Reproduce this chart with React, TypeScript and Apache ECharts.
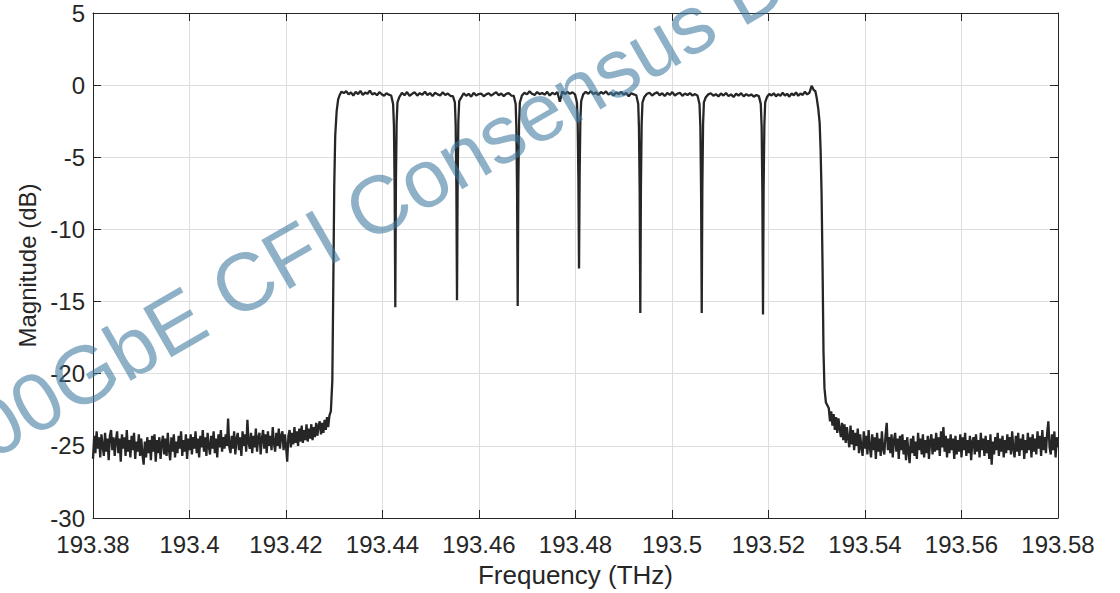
import React, { useEffect, useRef } from "react";
import * as echarts from "echarts";

const FONT = "'Liberation Sans', Arial, Helvetica, sans-serif";
const INK = "#262626";

// Axis ranges
const X_MIN = 193.38;
const X_MAX = 193.58;
const X_STEP = 0.02;
const Y_MIN = -30;
const Y_MAX = 5;
const Y_STEP = 5;

// Measured trace (frequency in THz, magnitude in dB)
const FLOOR_STEP = 0.00025;
const leftFloorStart = 193.38;
const leftFloor = [
  -25.9, -24.3, -25.5, -24.0, -25.2, -24.4, -25.8, -24.2, -25.0, -25.7,
  -24.1, -25.4, -24.5, -26.0, -24.3, -23.9, -25.3, -24.4, -25.7, -24.6,
  -24.0, -25.5, -24.5, -26.1, -24.2, -25.2, -24.4, -25.7, -23.9, -25.4,
  -24.6, -25.8, -24.3, -25.3, -24.1, -25.9, -24.7, -25.4, -24.2, -25.7,
  -24.5, -25.6, -26.3, -24.7, -25.8, -24.4, -25.5, -24.6, -26.0, -24.3,
  -25.4, -24.2, -26.1, -24.6, -25.5, -24.4, -25.9, -24.8, -24.3, -25.6,
  -24.5, -25.7, -24.1, -25.3, -26.0, -24.4, -25.4, -24.2, -25.8, -24.7,
  -25.5, -24.3, -25.2, -24.0, -25.7, -24.6, -25.4, -24.2, -25.9, -24.5,
  -25.3, -24.2, -25.6, -24.4, -25.2, -24.0, -25.5, -24.5, -25.8, -24.3,
  -25.1, -23.9, -25.4, -24.4, -25.7, -24.1, -25.0, -25.6, -24.3, -25.2,
  -24.0, -25.5, -24.5, -25.8, -24.2, -25.1, -23.9, -25.4, -24.4, -25.2,
  -24.2, -25.0, -23.1, -25.1, -25.5, -24.3, -25.2, -24.0, -25.6, -24.5,
  -24.1, -25.3, -24.4, -25.7, -24.0, -25.0, -24.2, -25.4, -23.2, -24.8,
  -25.2, -24.1, -25.5, -24.3, -25.1, -23.8, -25.4, -24.4, -24.1, -25.6,
  -24.5, -23.9, -25.2, -24.2, -25.5, -24.0, -25.0, -24.3, -25.3, -23.7,
  -24.8, -25.4, -24.1, -25.0, -23.8, -25.2, -24.3, -24.0, -25.3, -24.2,
  -25.0, -26.1, -24.3, -23.9, -25.1, -24.1, -24.9, -23.7, -24.8, -24.0,
  -25.0, -23.8, -24.7, -23.6, -24.8, -23.9, -24.6, -23.5, -24.7, -23.8,
  -24.5, -23.5, -24.6, -23.7, -24.4, -23.4, -24.3, -23.6, -23.3, -24.2,
  -23.4, -24.1, -23.2, -23.9, -23.0, -23.7, -22.9,
];

const leftEdge: [number, number][] = [
  [193.4293, -22.6], [193.4296, -20.5], [193.4298, -14.0], [193.43, -7.0],
  [193.4302, -3.5], [193.4305, -1.8], [193.4308, -1.0], [193.4311, -0.7],
];

const bandRanges: [number, number][] = [
  [193.4315, 193.4418], [193.4435, 193.4546], [193.4563, 193.4672], [193.4689, 193.4799],
  [193.4816, 193.4926], [193.4943, 193.5053], [193.507, 193.518], [193.5197, 193.5294],
];

const band1 = [-0.45, -0.55, -0.42, -0.64, -0.5, -0.72, -0.46, -0.62, -0.4, -0.68, -0.52, -0.6, -0.38, -0.65, -0.55, -0.7, -0.48, -0.63, -0.74, -0.56, -0.66, -0.72];
const band2 = [-0.82, -0.53, -0.7, -0.48, -0.74, -0.6, -0.5, -0.72, -0.56, -0.66, -0.46, -0.68, -0.55, -0.76, -0.53, -0.64, -0.71, -0.5, -0.68, -0.58, -0.74, -0.77];
const band3 = [-0.87, -0.56, -0.74, -0.6, -0.8, -0.53, -0.72, -0.62, -0.58, -0.77, -0.64, -0.56, -0.73, -0.6, -0.5, -0.7, -0.58, -0.76, -0.61, -0.55, -0.72, -0.74];
const band4 = [-0.72, -0.53, -0.64, -0.43, -0.6, -0.68, -0.48, -0.62, -0.54, -0.66, -0.46, -0.72, -0.53, -0.64, -0.48, -1.15, -0.43, -0.62, -0.46, -0.6, -0.5, -0.64];
const band5 = [-0.64, -0.46, -0.6, -0.42, -0.62, -0.5, -0.68, -0.48, -0.59, -0.44, -0.65, -0.53, -0.72, -0.5, -0.62, -0.46, -0.66, -0.54, -0.77, -0.56, -0.64, -0.7];
const band6 = [-0.8, -0.6, -0.53, -0.72, -0.58, -0.5, -0.7, -0.56, -0.76, -0.54, -0.68, -0.48, -0.72, -0.6, -0.53, -0.74, -0.58, -0.68, -0.56, -0.72, -0.62, -0.74];
const band7 = [-0.84, -0.64, -0.56, -0.74, -0.62, -0.78, -0.58, -0.72, -0.54, -0.76, -0.64, -0.82, -0.6, -0.72, -0.56, -0.78, -0.62, -0.74, -0.64, -0.8, -0.68, -0.76];
const band8 = [-0.82, -0.6, -0.72, -0.56, -0.78, -0.62, -0.74, -0.53, -0.72, -0.6, -0.8, -0.58, -0.7, -0.5, -0.74, -0.58, -0.68, -0.46, -0.64, -0.53, -0.05, -0.35];

const notch1: [number, number][] = [[193.4422, -1.3], [193.44237, -2.8], [193.44252, -7.2], [193.44265, -15.4], [193.44278, -6.8], [193.44293, -2.6], [193.4431, -1.2]];
const notch2: [number, number][] = [[193.455, -1.2], [193.45516, -2.7], [193.45531, -7.0], [193.45544, -14.9], [193.45557, -6.9], [193.45572, -2.5], [193.4559, -1.1]];
const notch3: [number, number][] = [[193.4676, -1.3], [193.46774, -2.9], [193.46789, -7.3], [193.46802, -15.3], [193.46815, -7.0], [193.4683, -2.7], [193.46847, -1.2]];
const notch4: [number, number][] = [[193.4803, -1.2], [193.48045, -2.6], [193.4806, -6.5], [193.48073, -12.7], [193.48086, -6.2], [193.48101, -2.4], [193.48118, -1.1]];
const notch5: [number, number][] = [[193.493, -1.3], [193.49315, -2.9], [193.4933, -7.4], [193.49343, -15.8], [193.49356, -7.1], [193.49371, -2.7], [193.49388, -1.2]];
const notch6: [number, number][] = [[193.5057, -1.3], [193.50588, -2.9], [193.50603, -7.4], [193.50616, -15.8], [193.50629, -7.1], [193.50644, -2.7], [193.50661, -1.2]];
const notch7: [number, number][] = [[193.5184, -1.3], [193.51858, -2.9], [193.51873, -7.5], [193.51886, -15.9], [193.51899, -7.2], [193.51914, -2.8], [193.51931, -1.2]];

const rightEdge: [number, number][] = [
  [193.5297, -0.4], [193.53, -0.9], [193.5303, -1.6], [193.5306, -2.6], [193.5308, -4.5],
  [193.531, -7.5], [193.5312, -12.5], [193.5314, -18.5], [193.5316, -21.0], [193.5319, -22.0],
];

const rightFloorStart = 193.5325;
const rightFloor = [
  -22.4, -23.3, -22.6, -23.6, -22.8, -23.9, -23.0, -24.1, -23.1, -23.8,
  -24.4, -23.4, -24.6, -23.5, -24.8, -23.7, -24.5, -25.1, -23.6, -24.9,
  -23.9, -25.3, -24.1, -25.0, -23.8, -25.5, -24.2, -25.1, -25.7, -24.0,
  -25.2, -24.3, -25.6, -23.9, -25.1, -25.8, -24.2, -25.3, -24.4, -25.9,
  -24.1, -25.4, -24.5, -25.7, -24.0, -25.2, -25.6, -24.3, -23.4, -25.3,
  -24.4, -25.5, -24.2, -25.8, -24.6, -24.1, -25.4, -24.5, -25.9, -24.3,
  -25.3, -24.2, -25.6, -24.6, -26.0, -24.4, -25.4, -26.2, -24.5, -25.5,
  -24.3, -25.7, -24.7, -25.9, -24.1, -25.3, -24.5, -25.6, -24.2, -25.8,
  -24.6, -25.5, -24.3, -25.9, -24.7, -24.2, -25.6, -24.5, -25.4, -24.1,
  -25.3, -24.4, -25.7, -24.0, -25.1, -23.7, -25.4, -24.3, -25.8, -24.5,
  -25.5, -24.2, -25.3, -24.5, -25.9, -24.3, -25.6, -24.6, -25.4, -24.2,
  -25.8, -24.4, -25.3, -24.1, -25.7, -24.6, -25.5, -24.3, -26.0, -24.7,
  -24.4, -25.6, -24.2, -25.4, -24.6, -25.8, -24.1, -25.3, -24.5, -25.7,
  -24.3, -25.5, -24.6, -25.9, -24.2, -26.3, -24.7, -25.6, -24.4, -25.3,
  -24.1, -25.7, -24.5, -25.4, -24.3, -25.8, -24.6, -25.5, -24.2, -25.3,
  -24.4, -25.6, -24.0, -25.2, -25.8, -24.3, -25.4, -24.1, -25.7, -24.5,
  -25.3, -24.2, -25.9, -24.6, -25.5, -24.1, -25.3, -24.4, -25.8, -24.2,
  -25.4, -24.5, -25.6, -24.0, -25.2, -24.3, -25.7, -23.9, -25.3, -24.4,
  -25.5, -24.1, -23.3, -25.1, -25.6, -24.2, -25.3, -24.0, -25.8, -24.4,
  -25.1,
];

const watermarkText = "400GbE CFI Consensus Draft";

function buildTrace(): [number, number][] {
  const bands = [band1, band2, band3, band4, band5, band6, band7, band8];
  const notches = [notch1, notch2, notch3, notch4, notch5, notch6, notch7];
  const pts: [number, number][] = [];
  leftFloor.forEach((v, i) => pts.push([leftFloorStart + i * FLOOR_STEP, v]));
  leftEdge.forEach((p) => pts.push(p));
  bands.forEach((vals, k) => {
    const [a, b] = bandRanges[k];
    vals.forEach((v, i) => pts.push([a + ((b - a) * i) / (vals.length - 1), v]));
    if (k < notches.length) notches[k].forEach((p) => pts.push(p));
  });
  rightEdge.forEach((p) => pts.push(p));
  rightFloor.forEach((v, i) => pts.push([rightFloorStart + i * FLOOR_STEP, v]));
  return pts;
}

const fmtX = (v: number) => String(parseFloat(v.toFixed(2)));
const fmtY = (v: number) => String(Math.round(v));

export default function App() {
  const ref = useRef<HTMLDivElement>(null);
  useEffect(() => {
    document.body.style.margin = "0";
    if (!ref.current) return;
    const chart = echarts.init(ref.current, undefined, { renderer: "svg" });
    const axisLine = { show: true, onZero: false, lineStyle: { color: INK, width: 1 } };
    const axisTick = { show: true, inside: true, length: 8, lineStyle: { color: INK, width: 1 } };
    const splitLine = { show: true, lineStyle: { color: "#dedede", width: 1 } };
    chart.setOption({
      animation: false,
      backgroundColor: "#ffffff",
      grid: { left: 93, right: 62, top: 13, bottom: 72, containLabel: false },
      xAxis: [
        {
          type: "value", min: X_MIN, max: X_MAX, interval: X_STEP, position: "bottom",
          axisLine, axisTick, splitLine,
          axisLabel: { color: INK, fontSize: 24, fontFamily: FONT, margin: 14, formatter: fmtX },
          name: "Frequency (THz)", nameLocation: "middle", nameGap: 44,
          nameTextStyle: { color: INK, fontSize: 26, fontFamily: FONT },
        },
        {
          type: "value", min: X_MIN, max: X_MAX, interval: X_STEP, position: "top",
          axisLine, axisTick, splitLine: { show: false }, axisLabel: { show: false },
        },
      ],
      yAxis: [
        {
          type: "value", min: Y_MIN, max: Y_MAX, interval: Y_STEP, position: "left",
          axisLine, axisTick, splitLine,
          axisLabel: { color: INK, fontSize: 24, fontFamily: FONT, margin: 8, formatter: fmtY },
          name: "Magnitude (dB)", nameLocation: "middle", nameGap: 45, nameRotate: 90,
          nameTextStyle: { color: INK, fontSize: 24, fontFamily: FONT },
        },
        {
          type: "value", min: Y_MIN, max: Y_MAX, interval: Y_STEP, position: "right",
          axisLine, axisTick, splitLine: { show: false }, axisLabel: { show: false },
        },
      ],
      series: [
        {
          type: "line", xAxisIndex: 0, yAxisIndex: 0, data: buildTrace(),
          showSymbol: false, symbol: "none", silent: true, z: 3,
          lineStyle: { color: INK, width: 2.3 }, itemStyle: { color: INK },
        },
      ],
      graphic: [
        {
          type: "text", x: -62, y: 459, rotation: Math.PI / 6, z: 100, silent: true,
          style: {
            text: watermarkText, fill: "rgba(60,120,160,0.58)", fontSize: 82, fontFamily: FONT,
            align: "left", verticalAlign: "middle", textAlign: "left", textVerticalAlign: "middle",
          },
        },
      ],
    });
    return () => chart.dispose();
  }, []);
  return <div ref={ref} style={{ width: 1120, height: 593 }} />;
}
